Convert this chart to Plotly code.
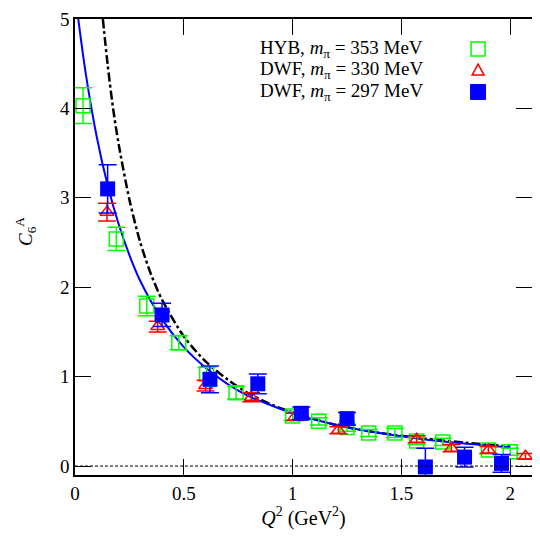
import plotly.graph_objects as go

# HYB, m_pi = 353 MeV (green open squares)
hyb_q2 = [0.037, 0.19, 0.33, 0.477, 0.605, 0.74, 1.0, 1.12, 1.25, 1.35, 1.47, 1.57, 1.69, 1.90, 2.0]
hyb_c6 = [4.03, 2.54, 1.79, 1.38, 1.03, 0.82, 0.56, 0.50, 0.43, 0.37, 0.37, 0.28, 0.27, 0.18, 0.16]
hyb_err = [0.20, 0.13, 0.11, 0.08, 0.075, 0.07, 0.05, 0.04, 0.04, 0.04, 0.05, 0.04, 0.04, 0.04, 0.04]

# DWF, m_pi = 330 MeV (red open triangles)
dwf330_q2 = [0.147, 0.38, 0.60, 0.81, 1.01, 1.21, 1.57, 1.73, 1.90, 2.07]
dwf330_c6 = [2.84, 1.56, 0.90, 0.77, 0.55, 0.40, 0.30, 0.20, 0.18, 0.11]
dwf330_err = [0.10, 0.06, 0.06, 0.05, 0.04, 0.04, 0.04, 0.04, 0.04, 0.03]

# DWF, m_pi = 297 MeV (blue filled squares)
dwf297_q2 = [0.15, 0.40, 0.62, 0.84, 1.04, 1.25, 1.61, 1.79, 1.96]
dwf297_c6 = [3.10, 1.69, 0.97, 0.92, 0.59, 0.53, -0.01, 0.10, 0.03]
dwf297_err = [0.27, 0.13, 0.15, 0.11, 0.07, 0.07, 0.21, 0.11, 0.10]

# fit curves
fit_q2 = [0.015, 0.05, 0.1, 0.15, 0.2, 0.25, 0.3, 0.4, 0.5, 0.6, 0.7, 0.8, 0.9, 1.0, 1.2, 1.4, 1.6, 1.8, 2.0]
fit_c6 = [5.0, 4.38, 3.68, 3.14, 2.71, 2.36, 2.07, 1.64, 1.33, 1.10, 0.92, 0.78, 0.68, 0.59, 0.46, 0.37, 0.30, 0.25, 0.21]

pole_q2 = [0.128, 0.15, 0.175, 0.2, 0.25, 0.3, 0.35, 0.4, 0.5, 0.6, 0.7, 0.8, 0.9, 1.0, 1.2, 1.4, 1.6, 1.8, 2.0]
pole_c6 = [5.0, 4.49, 4.0, 3.61, 2.98, 2.50, 2.14, 1.86, 1.45, 1.17, 0.97, 0.81, 0.69, 0.60, 0.46, 0.37, 0.31, 0.26, 0.22]

legend_labels = [
    "HYB, <i>m</i><sub>π</sub> = 353 MeV",
    "DWF, <i>m</i><sub>π</sub> = 330 MeV",
    "DWF, <i>m</i><sub>π</sub> = 297 MeV",
]

GREEN = "#00ff00"
RED = "#ff0000"
BLUE = "#0000ff"
FONT = "Liberation Serif"

fig = go.Figure()

fig.add_hline(y=0, line=dict(color="black", width=1, dash="3px,2px"))

fig.add_trace(go.Scatter(
    x=pole_q2, y=pole_c6, mode="lines",
    line=dict(color="black", width=2.5, dash="dashdot", shape="spline", smoothing=0.8),
))
fig.add_trace(go.Scatter(
    x=fit_q2, y=fit_c6, mode="lines",
    line=dict(color=BLUE, width=2, shape="spline", smoothing=0.8),
))

fig.add_trace(go.Scatter(
    x=hyb_q2, y=hyb_c6, mode="markers",
    marker=dict(symbol="square-open", size=14, color=GREEN, line=dict(width=1.5)),
    error_y=dict(type="data", array=hyb_err, color=GREEN, thickness=1.5, width=9),
))
fig.add_trace(go.Scatter(
    x=dwf330_q2, y=dwf330_c6, mode="markers",
    marker=dict(symbol="triangle-up-open", size=12, color=RED, line=dict(width=1.5)),
    error_y=dict(type="data", array=dwf330_err, color=RED, thickness=1.5, width=9),
))
fig.add_trace(go.Scatter(
    x=dwf297_q2, y=dwf297_c6, mode="markers",
    marker=dict(symbol="square", size=15, color=BLUE),
    error_y=dict(type="data", array=dwf297_err, color=BLUE, thickness=1.5, width=9),
))

# legend: text on the left, symbol on the right
legend_y = [0.934, 0.888, 0.840]
for label, ly in zip(legend_labels, legend_y):
    fig.add_annotation(
        text=label, xref="paper", yref="paper", x=0.766, y=ly,
        xanchor="right", yanchor="middle", showarrow=False,
        font=dict(family=FONT, size=19, color="black"),
    )

sym_x = 0.882
fig.add_shape(type="rect", xref="paper", yref="paper",
              xsizemode="pixel", ysizemode="pixel",
              xanchor=sym_x, yanchor=legend_y[0],
              x0=-7, x1=7, y0=-7, y1=7,
              line=dict(color=GREEN, width=1.5))
fig.add_shape(type="path", xref="paper", yref="paper",
              xsizemode="pixel", ysizemode="pixel",
              xanchor=sym_x, yanchor=legend_y[1],
              path="M -6,-5 L 6,-5 L 0,6 Z",
              line=dict(color=RED, width=1.5))
fig.add_shape(type="rect", xref="paper", yref="paper",
              xsizemode="pixel", ysizemode="pixel",
              xanchor=sym_x, yanchor=legend_y[2],
              x0=-7.5, x1=7.5, y0=-7.5, y1=7.5,
              line=dict(color=BLUE, width=1), fillcolor=BLUE)

fig.add_annotation(
    text="<i>C</i><sub>6</sub><sup>A</sup>", xref="paper", yref="paper",
    x=-0.107, y=0.533, xanchor="center", yanchor="middle",
    textangle=-90, showarrow=False,
    font=dict(family=FONT, size=19, color="black"),
)

axis_common = dict(
    showgrid=False, zeroline=False, ticks="inside", ticklen=16,
    tickcolor="black", tickwidth=1, showline=True, linecolor="black",
    linewidth=1.5, mirror="ticks", automargin=False,
    tickfont=dict(family=FONT, size=19, color="black"),
)

fig.update_xaxes(
    range=[0, 2.1], tickvals=[0, 0.5, 1, 1.5, 2],
    title=dict(text="<i>Q</i><sup>2</sup> (GeV<sup>2</sup>)",
               font=dict(family=FONT, size=20, color="black"), standoff=8),
    **axis_common,
)
fig.update_yaxes(
    range=[-0.1, 5], tickvals=[0, 1, 2, 3, 4, 5],
    **axis_common,
)

# page body keeps an 8px margin, so the figure is 524px and offsets shrink
fig.update_layout(
    width=524, height=524,
    margin=dict(l=67, r=0, t=11, b=57),
    plot_bgcolor="white", paper_bgcolor="white",
    showlegend=False,
)

fig.write_html("out.html")
